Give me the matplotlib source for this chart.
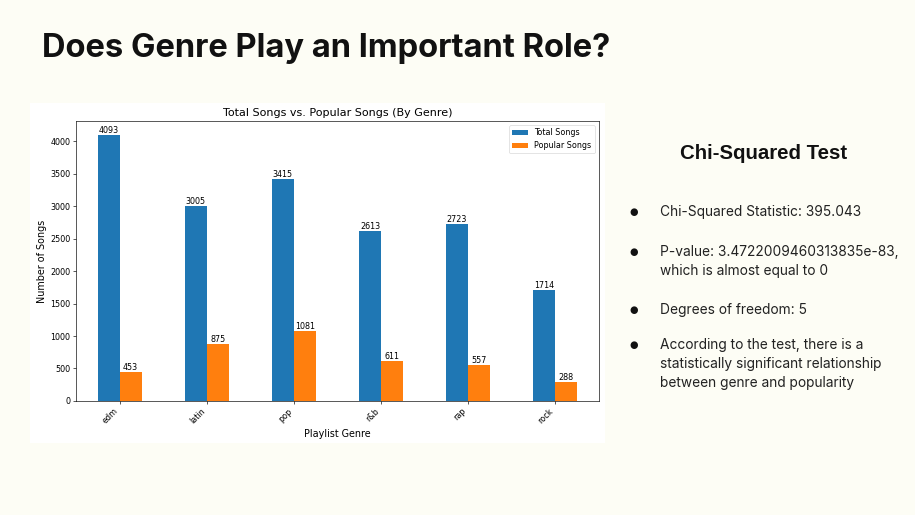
import numpy as np
import matplotlib.pyplot as plt
from matplotlib.patches import Rectangle

genres = ['edm', 'latin', 'pop', 'r&b', 'rap', 'rock']
total_songs = [4093, 3005, 3415, 2613, 2723, 1714]
popular_songs = [453, 875, 1081, 611, 557, 288]

bullets = [
    'Chi-Squared Statistic: 395.043',
    'P-value: 3.4722009460313835e-83,\nwhich is almost equal to 0',
    'Degrees of freedom: 5',
    'According to the test, there is a\nstatistically significant relationship\nbetween genre and popularity',
]
bullet_y = [0.598, 0.521, 0.408, 0.339]

BG = '#fdfdf5'
S = 0.575  # the chart is a scaled-down screenshot

fig = plt.figure(figsize=(9.15, 5.15), dpi=100, facecolor=BG)

# white card behind the chart image
fig.patches.append(Rectangle((0.0328, 0.1398), 0.628, 0.660, transform=fig.transFigure,
                             facecolor='white', edgecolor='none', zorder=-1))

fig.text(0.046, 0.905, 'Does Genre Play an Important Role?', fontsize=23.5, fontweight='bold',
         family='Inter', color='#111111', va='center', ha='left')

ax = fig.add_axes([0.0833, 0.2214, 0.5708, 0.5437])
ax.set_zorder(2)
x = np.arange(len(genres))
w = 0.25
b1 = ax.bar(x - w / 2, total_songs, w, color='#1f77b4', label='Total Songs')
b2 = ax.bar(x + w / 2, popular_songs, w, color='#ff7f0e', label='Popular Songs')
ax.bar_label(b1, fontsize=10 * S, padding=0)
ax.bar_label(b2, fontsize=10 * S, padding=0)
ax.set_xlim(-0.5, 5.5)
ax.set_ylim(0, 4310)
ax.set_xticks(x)
ax.set_xticklabels(genres, rotation=45, ha='right', fontsize=10 * S)
ax.set_yticks(np.arange(0, 4001, 500))
ax.tick_params(labelsize=10 * S, width=0.8 * S, length=3.5 * S, pad=3.5 * S)
for sp in ax.spines.values():
    sp.set_linewidth(0.8 * S)
ax.set_title('Total Songs vs. Popular Songs (By Genre)', fontsize=14 * S, pad=6 * S)
ax.set_xlabel('Playlist Genre', fontsize=12 * S, labelpad=4 * S)
ax.set_ylabel('Number of Songs', fontsize=12 * S, labelpad=4 * S)
leg = ax.legend(loc='upper right', fontsize=10 * S, handlelength=2 * S * 1.7,
                borderpad=0.4, frameon=True)
leg.get_frame().set_linewidth(0.8 * S)

fig.text(0.835, 0.702, 'Chi-Squared Test', fontsize=14.7, fontweight='bold',
         family='Liberation Sans', ha='center', va='center', color='#111111')

for txt, y in zip(bullets, bullet_y):
    fig.text(0.693, y, '\u25cf', fontsize=7, ha='center', va='top', color='#111111',
             family='DejaVu Sans')
    fig.text(0.721, y + 0.004, txt, fontsize=9.9, ha='left', va='top', color='#222222',
             family='Inter', linespacing=1.45)

fig.savefig('out.png', dpi=100, facecolor=BG)
